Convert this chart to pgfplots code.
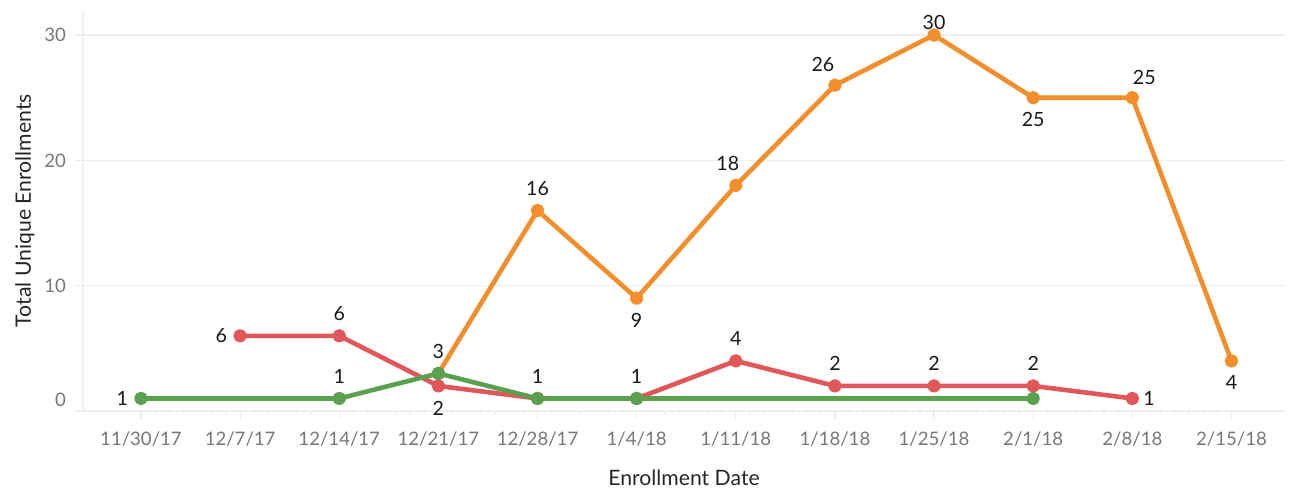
\documentclass[border=0pt]{standalone}
\usepackage{pgfplots}
\pgfplotsset{compat=1.18}
\usepackage{fontspec}
\setmainfont{Lato}
\definecolor{cor}{HTML}{F28E2B}
\definecolor{cred}{HTML}{E15759}
\definecolor{cgr}{HTML}{59A14F}
\definecolor{tickgray}{HTML}{777777}
\definecolor{gridgray}{HTML}{EEEEEE}
\tikzset{dlab/.style={font=\fontsize{9.8}{11}\selectfont, text=black!90}}
\begin{document}
\begin{tikzpicture}
\begin{axis}[
  scale only axis, width=601pt, height=200.5pt,
  xmin=-0.585, xmax=11.54, ymin=0, ymax=32,
  xtick={0,...,11},
  xticklabels={11/30/17,12/7/17,12/14/17,12/21/17,12/28/17,1/4/18,1/11/18,1/18/18,1/25/18,2/1/18,2/8/18,2/15/18},
  ytick={0,10,20,30},
  yticklabels={\raisebox{2.3ex}{0},10,20,30},
  minor x tick num=6,
  axis x line*=bottom, axis y line*=left,
  axis line style={draw=gridgray, line width=0.8pt, -},
  tick style={draw=gridgray, line width=0.6pt},
  major tick length=4pt, minor tick length=2pt,
  tick align=outside,
  ymajorgrids, grid style={draw=gridgray, line width=0.6pt},
  tick label style={font=\fontsize{9.3}{10}\selectfont, text=tickgray},
  xticklabel style={yshift=-3pt},
  yticklabel style={xshift=-1pt},
  xlabel={Enrollment Date}, ylabel={Total Unique Enrollments},
  label style={font=\fontsize{10.6}{12}\selectfont, text=black!85},
  xlabel style={yshift=-5pt},
  ylabel style={yshift=-2pt},
  clip=false,
  every axis plot/.append style={line width=2.3pt, mark=*, mark size=2.2pt, line join=round},
]
\addplot[cor, mark options={fill=cor, draw=cor}] coordinates {(3,3)(4,16)(5,9)(6,18)(7,26)(8,30)(9,25)(10,25)(11,4)};
\addplot[cred, mark options={fill=cred, draw=cred}] coordinates {(1,6)(2,6)(3,2)(4,1)(5,1)(6,4)(7,2)(8,2)(9,2)(10,1)};
\addplot[cgr, mark options={fill=cgr, draw=cgr}] coordinates {(0,1)(2,1)(3,3)(4,1)(5,1)(9,1)};
% orange labels
\node[dlab, anchor=south, yshift=4pt] at (axis cs:4,16) {16};
\node[dlab, anchor=north, yshift=-4pt] at (axis cs:5,9) {9};
\node[dlab, anchor=south, yshift=4pt, xshift=-4pt] at (axis cs:6,18) {18};
\node[dlab, anchor=south, yshift=3pt, xshift=-6pt] at (axis cs:7,26) {26};
\node[dlab, anchor=south, yshift=-1pt] at (axis cs:8,30) {30};
\node[dlab, anchor=north, yshift=-4pt] at (axis cs:9,25) {25};
\node[dlab, anchor=south, yshift=3pt, xshift=6pt] at (axis cs:10,25) {25};
\node[dlab, anchor=north, yshift=-4pt] at (axis cs:11,4) {4};
% red labels
\node[dlab, anchor=east, xshift=-3pt] at (axis cs:1,6) {6};
\node[dlab, anchor=south, yshift=4pt] at (axis cs:2,6) {6};
\node[dlab, anchor=north, yshift=-4pt] at (axis cs:3,2) {2};
\node[dlab, anchor=south, yshift=4pt] at (axis cs:6,4) {4};
\node[dlab, anchor=south, yshift=4pt] at (axis cs:7,2) {2};
\node[dlab, anchor=south, yshift=4pt] at (axis cs:8,2) {2};
\node[dlab, anchor=south, yshift=4pt] at (axis cs:9,2) {2};
\node[dlab, anchor=west, xshift=2pt] at (axis cs:10,1) {1};
% green labels
\node[dlab, anchor=east, xshift=-3pt] at (axis cs:0,1) {1};
\node[dlab, anchor=south, yshift=4pt] at (axis cs:2,1) {1};
\node[dlab, anchor=south, yshift=4pt] at (axis cs:3,3) {3};
\node[dlab, anchor=south, yshift=4pt] at (axis cs:4,1) {1};
\node[dlab, anchor=south, yshift=4pt] at (axis cs:5,1) {1};
% page extent
\path (rel axis cs:0,0) ++(-41.5pt,-40.5pt) coordinate (bbll);
\path (rel axis cs:1,1) ++(2.5pt,5pt) coordinate (bbur);
\end{axis}
\useasboundingbox (bbll) rectangle (bbur);
\end{tikzpicture}
\end{document}
